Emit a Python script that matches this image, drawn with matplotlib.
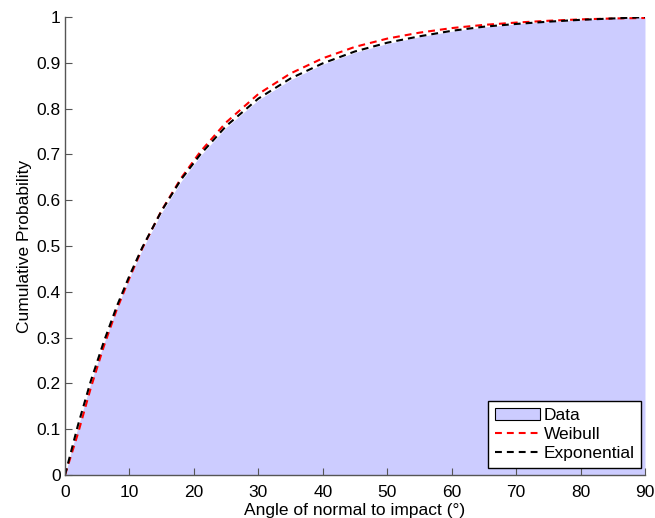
import matplotlib
matplotlib.use("Agg")
import matplotlib.pyplot as plt

# angle of normal to impact (degrees)
angle = [0, 2, 4, 6, 8, 10, 12, 15, 18, 21, 25, 30, 35, 40, 45, 50,
         55, 60, 65, 70, 75, 80, 85, 90]

# empirical CDF (filled area)
data_cdf = [0.0, 0.104, 0.200, 0.286, 0.363, 0.431, 0.493, 0.573, 0.641,
            0.697, 0.759, 0.819, 0.863, 0.897, 0.923, 0.942, 0.957, 0.969,
            0.978, 0.985, 0.990, 0.994, 0.997, 1.0]

# fitted Weibull CDF
weibull_cdf = [0.0, 0.090, 0.190, 0.280, 0.360, 0.430, 0.495, 0.578, 0.648,
               0.706, 0.770, 0.832, 0.877, 0.910, 0.935, 0.953, 0.966, 0.976,
               0.983, 0.988, 0.992, 0.995, 0.997, 0.998]

# fitted exponential CDF
expo_cdf = [0.0, 0.108, 0.205, 0.290, 0.367, 0.435, 0.497, 0.577, 0.645,
            0.700, 0.762, 0.822, 0.866, 0.899, 0.925, 0.944, 0.958, 0.970,
            0.979, 0.985, 0.990, 0.994, 0.997, 1.0]

plt.rcParams["font.family"] = ["Liberation Sans", "DejaVu Sans"]
plt.rcParams["font.size"] = 12.5

fig = plt.figure(figsize=(6.55, 5.18), dpi=100)
ax = fig.add_axes([0.0992, 0.083, 0.8855, 0.884])

ax.fill_between(angle, data_cdf, 0, color="#ccccff", linewidth=0, label="Data")
ax.plot(angle, weibull_cdf, color="red", linewidth=1.5,
        linestyle=(0, (3.3, 2.4)), label="Weibull")
ax.plot(angle, expo_cdf, color="black", linewidth=1.5,
        linestyle=(0, (3.3, 2.4)), label="Exponential")

ax.set_xlim(0, 90)
ax.set_ylim(0, 1)
ax.set_xticks(range(0, 91, 10))
ax.set_yticks([i / 10 for i in range(11)])
ax.set_yticklabels(["0", "0.1", "0.2", "0.3", "0.4", "0.5", "0.6", "0.7",
                    "0.8", "0.9", "1"])
ax.set_xlabel("Angle of normal to impact (°)", labelpad=2)
ax.set_ylabel("Cumulative Probability", labelpad=3)

for side in ("top", "right"):
    ax.spines[side].set_visible(False)
for side in ("left", "bottom"):
    ax.spines[side].set_color("#555555")
    ax.spines[side].set_linewidth(1.0)
ax.tick_params(direction="in", length=5, color="#555555")
ax.tick_params(axis="x", pad=7)
ax.tick_params(axis="y", pad=3)

leg = ax.legend(loc="lower right", bbox_to_anchor=(0.994, 0.015),
                fancybox=False, framealpha=1, edgecolor="black",
                handlelength=2.6, handletextpad=0.2, borderpad=0.4,
                labelspacing=0.22, borderaxespad=0)
leg.get_frame().set_linewidth(1.0)
leg.legend_handles[0].set_edgecolor("black")
leg.legend_handles[0].set_linewidth(0.8)

fig.savefig("out.png", dpi=100)
